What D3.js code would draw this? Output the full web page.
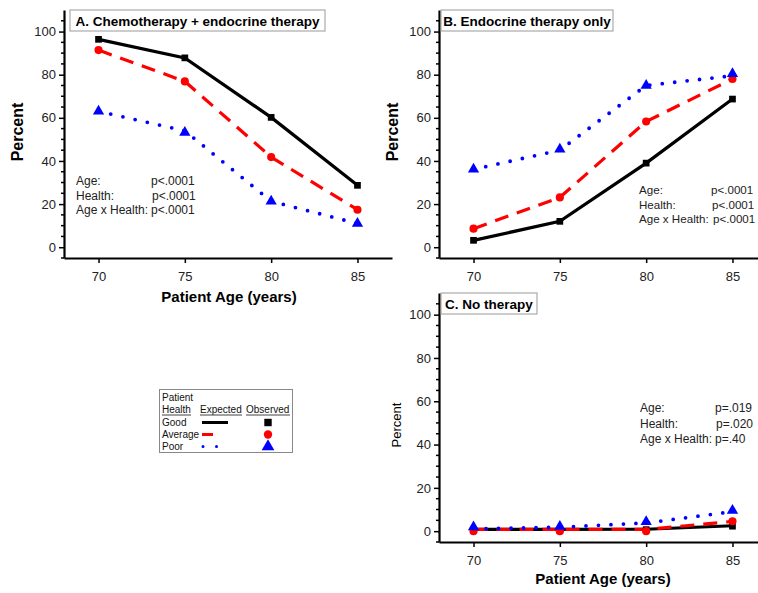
<!DOCTYPE html>
<html><head><meta charset="utf-8">
<script src="https://cdn.jsdelivr.net/npm/d3@7"></script>
<style>body{margin:0;background:#fff;}svg{display:block;font-family:"Liberation Sans",Arial,sans-serif;}</style>
</head><body>
<svg id="c" width="758" height="593"></svg>
<script>
const ages = [70, 75, 80, 85];
const yTicks = [0, 20, 40, 60, 80, 100];
const healthGroups = ["Good", "Average", "Poor"];
// Panel A: Chemotherapy + endocrine therapy
const aGoodObs = [96.4, 87.8, 60.2, 28.7];
const aAvgObs = [91.4, 76.9, 41.8, 17.4];
const aPoorObs = [63.0, 53.2, 21.3, 11.0];
const aGoodExp = [96.4, 87.8, 60.2, 28.7];
const aAvgExp = [91.4, 76.9, 41.8, 17.4];
const aPoorExp = [63.0, 54.0, 21.3, 11.0];
// Panel B: Endocrine therapy only
const bGoodObs = [3.2, 12.0, 39.0, 68.7];
const bAvgObs = [8.6, 23.1, 58.3, 78.0];
const bPoorObs = [36.1, 45.4, 75.0, 80.4];
const bGoodExp = [3.2, 12.0, 39.0, 68.7];
const bAvgExp = [8.6, 23.1, 58.3, 78.0];
const bPoorExp = [36.1, 45.0, 75.0, 79.5];
// Panel C: No therapy
const cGoodObs = [0.5, 0.5, 0.7, 2.3];
const cAvgObs = [0.0, 0.0, 0.0, 4.6];
const cPoorObs = [1.9, 2.2, 4.4, 9.6];
const cGoodExp = [0.8, 0.8, 0.9, 2.5];
const cAvgExp = [0.8, 0.8, 0.8, 4.5];
const cPoorExp = [1.0, 1.8, 3.8, 9.0];

const svg = d3.select("#c");
const colors = {Good: "#000000", Average: "#ff0000", Poor: "#0000ff"};
const dash = {Good: null, Average: "14 9", Poor: "0 12.5"};
const widths = {Good: 3.2, Average: 3.2, Poor: 3.8};

function panel(o) {
  const x = d3.scaleLinear().domain([68, 87]).range([o.x0, o.x1]);
  const y = d3.scaleLinear().domain([-5, 110]).range([o.y1, o.y0]);
  const g = svg.append("g");
  const xa = g.append("g").attr("transform", `translate(0,${o.y1})`)
    .call(d3.axisBottom(x).tickValues(ages).tickSize(5).tickPadding(9).tickSizeOuter(0));
  const ya = g.append("g").attr("transform", `translate(${o.x0},0)`)
    .call(d3.axisLeft(y).tickValues(yTicks).tickSize(5).tickPadding(3).tickSizeOuter(0));
  // minor ticks
  g.append("g").selectAll("line").data(d3.range(-5, 110, 5).filter(v => v % 20 !== 0))
    .join("line").attr("x1", o.x0).attr("x2", o.x0 - 3).attr("y1", d => y(d)).attr("y2", d => y(d))
    .attr("stroke", "#000").attr("stroke-width", 1.5);
  [xa, ya].forEach(a => {
    a.select(".domain").attr("stroke-width", 2.2);
    a.selectAll(".tick line").attr("stroke-width", 1.5);
    a.selectAll("text").attr("font-size", 13).attr("fill", "#222")
      .attr("font-family", "'Liberation Sans',Arial,sans-serif");
  });
  // title box
  g.append("rect").attr("x", o.tx).attr("y", o.ty).attr("width", o.tw).attr("height", 21)
    .attr("fill", "#fff").attr("stroke", "#999").attr("stroke-width", 1);
  g.append("text").attr("x", o.tx + o.tw / 2).attr("y", o.ty + 15.5).attr("text-anchor", "middle")
    .attr("font-size", 13.5).attr("font-weight", "bold").text(o.title);
  // y label
  g.append("text").attr("transform", `translate(${o.ylx},${o.yly}) rotate(-90)`)
    .attr("text-anchor", "middle").attr("font-size", o.ylBold ? 16 : 13)
    .attr("font-weight", o.ylBold ? "bold" : "normal").text("Percent");
  if (o.xl) {
    g.append("text").attr("x", o.xlx).attr("y", o.xly).attr("text-anchor", "middle")
      .attr("font-size", 15).attr("font-weight", "bold").text("Patient Age (years)");
  }
  // lines
  const line = d3.line().x((d, i) => x(ages[i])).y(d => y(d));
  healthGroups.forEach((h, k) => {
    g.append("path").attr("d", line(o.exp[k])).attr("fill", "none")
      .attr("stroke", colors[h]).attr("stroke-width", widths[h])
      .attr("stroke-dasharray", dash[h]).attr("stroke-linecap", h === "Poor" ? "round" : "butt");
  });
  // markers
  healthGroups.forEach((h, k) => {
    const sym = h === "Good" ? d3.symbolSquare : h === "Average" ? d3.symbolCircle : d3.symbolTriangle;
    const size = h === "Good" ? 45 : h === "Average" ? 52 : 55;
    g.append("g").selectAll("path").data(o.obs[k]).join("path")
      .attr("transform", (d, i) => `translate(${x(ages[i])},${y(d)})`)
      .attr("d", d3.symbol().type(sym).size(size)).attr("fill", colors[h]);
  });
  // annotations
  const ann = g.append("g").attr("font-size", o.afs || 12).attr("fill", "#222");
  o.ann.forEach((a, i) => {
    ann.append("text").attr("x", o.ax).attr("y", o.ay + i * o.adY).text(a[0]);
    ann.append("text").attr("x", o.ax + o.aDx[i]).attr("y", o.ay + i * o.adY).text(a[1]);
  });
}

panel({x0: 64, x1: 392, y0: 10, y1: 258, title: "A. Chemotherapy + endocrine therapy",
  tx: 70, ty: 10, tw: 255, ylx: 23, yly: 132, ylBold: true, xl: true, xlx: 229, xly: 302,
  obs: [aGoodObs, aAvgObs, aPoorObs], exp: [aGoodExp, aAvgExp, aPoorExp],
  ann: [["Age:", "p<.0001"], ["Health:", "p<.0001"], ["Age x Health:", "p<.0001"]],
  ax: 76, ay: 185, adY: 14.5, aDx: [75, 76, 75]});
panel({x0: 439, x1: 767, y0: 10, y1: 258, title: "B. Endocrine therapy only",
  tx: 441, ty: 10, tw: 172, ylx: 398, yly: 132, ylBold: true, xl: false,
  obs: [bGoodObs, bAvgObs, bPoorObs], exp: [bGoodExp, bAvgExp, bPoorExp],
  ann: [["Age:", "p<.0001"], ["Health:", "p<.0001"], ["Age x Health:", "p<.0001"]],
  ax: 639, ay: 194, adY: 14.5, aDx: [72, 73, 74], afs: 11.6});
panel({x0: 439, x1: 767, y0: 293, y1: 542, title: "C. No therapy",
  tx: 441, ty: 293, tw: 96, ylx: 401, yly: 425, ylBold: false, xl: true, xlx: 603, xly: 584,
  obs: [cGoodObs, cAvgObs, cPoorObs], exp: [cGoodExp, cAvgExp, cPoorExp],
  ann: [["Age:", "p=.019"], ["Health:", "p=.020"], ["Age x Health:", "p=.40"]],
  ax: 640, ay: 412, adY: 15.5, aDx: [75, 76, 75]});

// legend
const lg = svg.append("g").attr("font-size", 10).attr("fill", "#111");
lg.append("rect").attr("x", 159.5).attr("y", 389.5).attr("width", 133).attr("height", 63)
  .attr("fill", "#fff").attr("stroke", "#888").attr("stroke-width", 1);
lg.append("text").attr("x", 162).attr("y", 401).text("Patient");
const hdr = [["Health", 162, 29], ["Expected", 200, 42], ["Observed", 246, 44]];
hdr.forEach(h => {
  lg.append("text").attr("x", h[1]).attr("y", 413).text(h[0]);
  lg.append("line").attr("x1", h[1]).attr("x2", h[1] + h[2]).attr("y1", 415).attr("y2", 415)
    .attr("stroke", "#111").attr("stroke-width", 0.8);
});
healthGroups.forEach((h, k) => {
  const yy = 426 + k * 12;
  lg.append("text").attr("x", 162).attr("y", yy).text(h);
  const lx2 = h === "Good" ? 228 : h === "Average" ? 213 : 221;
  lg.append("line").attr("x1", h === "Poor" ? 203 : 202).attr("x2", lx2).attr("y1", yy - 3.5).attr("y2", yy - 3.5)
    .attr("stroke", colors[h]).attr("stroke-width", 3).attr("stroke-dasharray", h === "Poor" ? "0 13.5" : null)
    .attr("stroke-linecap", h === "Poor" ? "round" : "butt");
  const sym = h === "Good" ? d3.symbolSquare : h === "Average" ? d3.symbolCircle : d3.symbolTriangle;
  lg.append("path").attr("transform", `translate(268,${yy - 3.5})`)
    .attr("d", d3.symbol().type(sym).size(h === "Poor" ? 70 : 55)).attr("fill", colors[h]);
});
</script>
</body></html>
